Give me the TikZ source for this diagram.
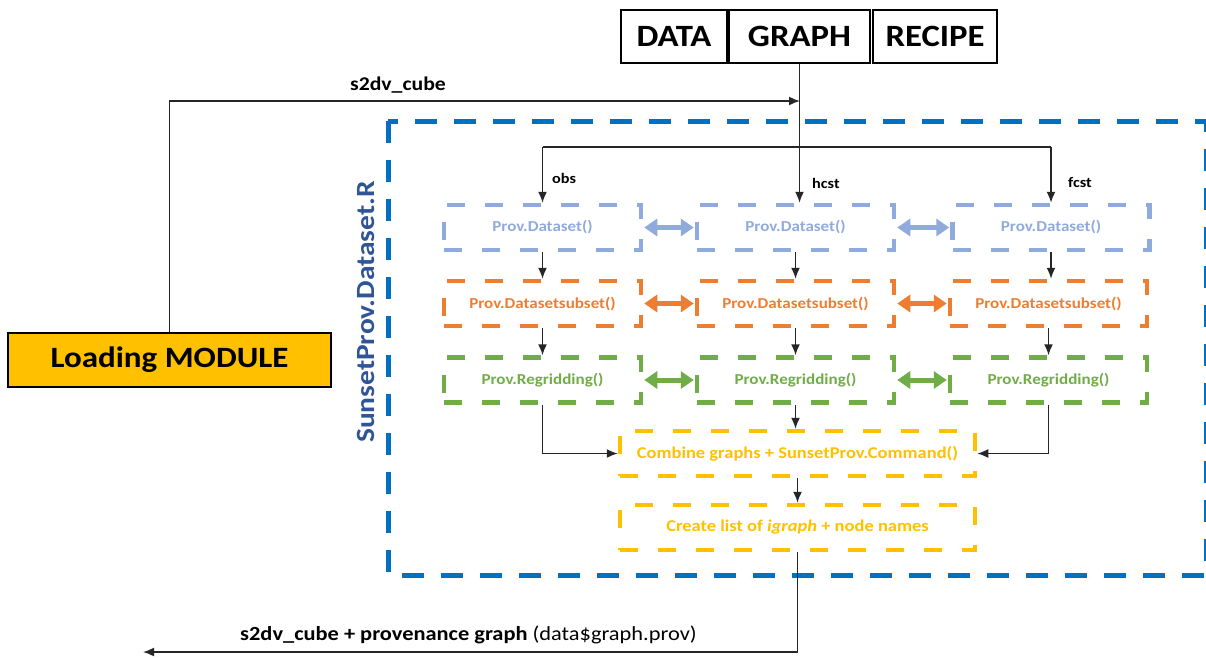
\documentclass[tikz,border=0pt]{standalone}
\usepackage{fontspec}
\setmainfont{Carlito}[FakeStretch=1.12]
\usetikzlibrary{arrows.meta,calc}
\definecolor{frameblue}{RGB}{0,112,192}
\definecolor{titleblue}{RGB}{47,85,151}
\definecolor{lblue}{RGB}{143,170,220}
\definecolor{orng}{RGB}{237,125,49}
\definecolor{grn}{RGB}{112,173,71}
\definecolor{ylw}{RGB}{255,192,0}
\tikzset{
  headbox/.style={draw=black, line width=1.2pt, minimum height=53pt, inner sep=0pt,
    font=\bfseries\fontsize{31}{33}\selectfont},
  procbox/.style={draw=#1, text=#1, line width=4.5pt, dash pattern=on 18pt off 20pt,
    minimum width=197pt, minimum height=45pt, inner sep=0pt,
    font=\bfseries\fontsize{15.2}{17}\selectfont},
  widebox/.style={procbox=ylw, minimum width=355pt, font=\bfseries\fontsize{16.5}{18}\selectfont},
  flow/.style={draw=black!85, line width=1.6pt, -{Latex[length=11pt,width=9pt]}},
  link/.style={draw=#1, line width=5pt, {Triangle[length=13pt,width=17pt]}-{Triangle[length=13pt,width=17pt]}, shorten <=1pt, shorten >=1pt},
  tag/.style={font=\bfseries\fontsize{14.5}{16}\selectfont, inner sep=0pt}
}
\begin{document}
\begin{tikzpicture}[x=1pt,y=-1pt]
\useasboundingbox (0,0) rectangle (1206,657);

% header tabs
\node[headbox, minimum width=106pt] (data)   at (674,36.5) {DATA};
\node[headbox, minimum width=141pt] (graph)  at (799.5,36.5) {GRAPH};
\node[headbox, minimum width=124pt] (recipe) at (935,36.5) {RECIPE};

% loading module
\node[draw=black, line width=1.2pt, fill=ylw, minimum width=323pt, minimum height=54pt,
  inner sep=0pt, font=\bfseries\fontsize{29.5}{31}\selectfont] (load) at (169.5,360) {Loading MODULE};

% dataset frame
\draw[frameblue, line width=5pt, dash pattern=on 22pt off 17pt] (388,121) rectangle (1206.5,575);
\node[rotate=90, text=titleblue, font=\bfseries\fontsize{26.3}{28}\selectfont, inner sep=0pt] (title) at (366,312) {SunsetProv.Dataset.R};

% row 1
\node[procbox=lblue] (d1) at (542.5,227.5) {Prov.Dataset()};
\node[procbox=lblue] (d2) at (795.5,227.5) {Prov.Dataset()};
\node[procbox=lblue] (d3) at (1051,227.5) {Prov.Dataset()};
% row 2
\node[procbox=orng] (s1) at (542.5,303.5) {Prov.Datasetsubset()};
\node[procbox=orng] (s2) at (795.5,303.5) {Prov.Datasetsubset()};
\node[procbox=orng] (s3) at (1048.5,303.5) {Prov.Datasetsubset()};
% row 3
\node[procbox=grn] (r1) at (542.5,380) {Prov.Regridding()};
\node[procbox=grn] (r2) at (795.5,380) {Prov.Regridding()};
\node[procbox=grn] (r3) at (1048.5,380) {Prov.Regridding()};
% merge steps
\node[widebox] (comb) at (797.5,453.5) {Combine graphs + SunsetProv.Command()};
\node[widebox] (list) at (797.5,527.5) {Create list of \textit{igraph} + node names};

% side links
\draw[link=lblue] (d1) -- (d2);
\draw[link=lblue] (d2) -- (d3);
\draw[link=orng] (s1) -- (s2);
\draw[link=orng] (s2) -- (s3);
\draw[link=grn] (r1) -- (r2);
\draw[link=grn] (r2) -- (r3);

% input from the loading module
\coordinate (inp) at (800,101);
\draw[flow] (load.north) |- (inp);
\node[font=\bfseries\fontsize{19.4}{21}\selectfont, inner sep=0pt] (incube) at (398,85) {s2dv\_cube};

% split into obs / hcst / fcst
\coordinate (split) at (800,147);
\draw[draw=black!85, line width=1.6pt] (split -| d1.north) -- (split -| d3.north);
\draw[flow] (graph.south) -- (graph.south |- d2.north);
\draw[flow] (split -| d1.north) -- (d1.north);
\draw[flow] (split -| d3.north) -- (d3.north);
\node[tag, anchor=west] (lobs)  at (552,178) {obs};
\node[tag, anchor=west] (lhcst) at (812,183) {hcst};
\node[tag, anchor=west] (lfcst) at (1068,183) {fcst};

% vertical steps
\draw[flow] (d1.south) -- (s1.north);
\draw[flow] (d2.south) -- (s2.north);
\draw[flow] (d3.south) -- (d3.south |- s3.north);
\draw[flow] (s1.south) -- (r1.north);
\draw[flow] (s2.south) -- (r2.north);
\draw[flow] (s3.south) -- (r3.north);
\draw[flow] (r1.south) |- (comb.west);
\draw[flow] (r2.south) -- (r2.south |- comb.north);
\draw[flow] (r3.south) |- (comb.east);
\draw[flow] (comb.south) -- (comb.south |- list.north);

% output
\coordinate (out) at (143,652);
\draw[flow] (list.south) |- (out);
\node[anchor=base west, font=\fontsize{20}{22}\selectfont, inner sep=0pt] (outlbl) at (240,640)
  {\textbf{s2dv\_cube + provenance graph} (data\$graph.prov)};
\end{tikzpicture}
\end{document}
